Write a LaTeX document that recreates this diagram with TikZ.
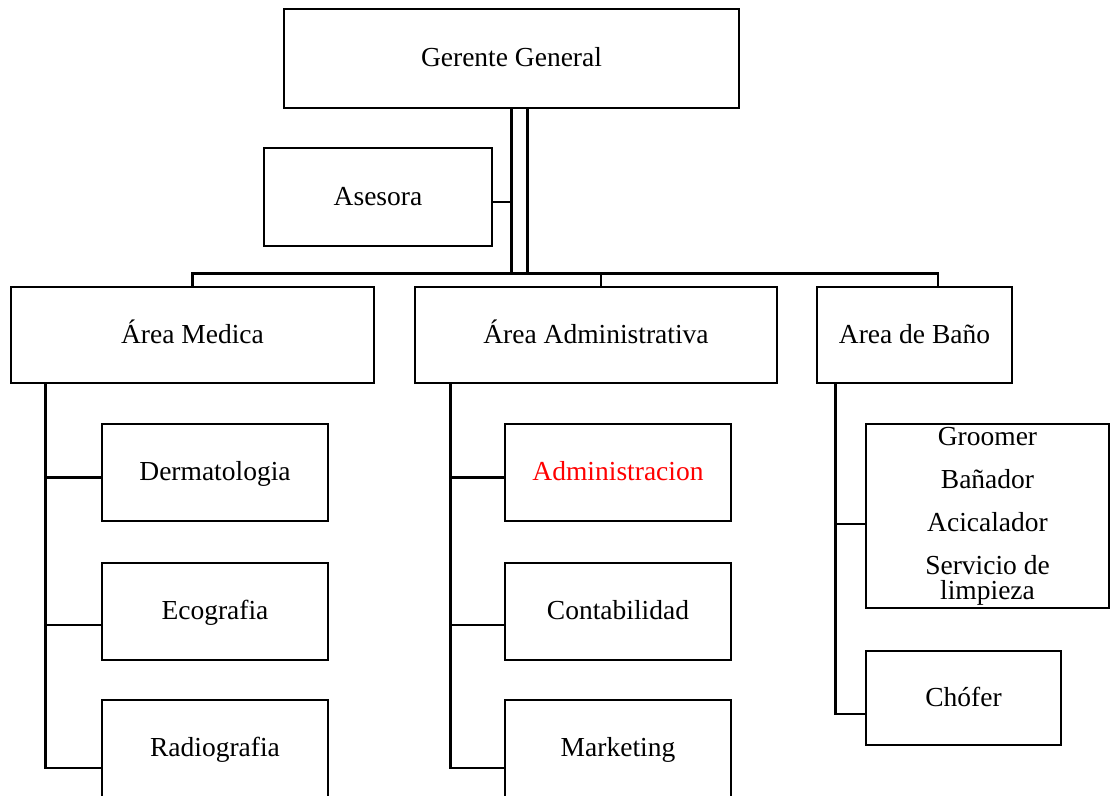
\documentclass[tikz,border=0pt]{standalone}
\usepackage{fontspec}
\setmainfont{Liberation Serif}
\begin{document}
\begin{tikzpicture}[x=1pt,y=-1pt,
  box/.style={draw=black,line width=2.6pt,inner sep=0pt,align=center,
    font=\fontsize{27.5}{32}\selectfont},
  one/.style={text height=21pt,text depth=5pt},
  conn/.style={line width=2.6pt,black},
  thickconn/.style={line width=3.8pt,black}]
\useasboundingbox (0,0) rectangle (1110,795);
\clip (0,0) rectangle (1110,795);
\fill[white] (0,0) rectangle (1110,795);
% boxes
\node[box,one,minimum width=455pt,minimum height=99pt] (ger) at (511.5,58.5) {Gerente General};
\node[box,one,minimum width=228pt,minimum height=98pt] (ase) at (378,197) {Asesora};
\node[box,one,minimum width=363pt,minimum height=96pt] (med) at (192.5,335) {Área Medica};
\node[box,one,minimum width=362pt,minimum height=96pt] (adm) at (596,335) {Área Administrativa};
\node[box,one,minimum width=195pt,minimum height=96pt] (bano) at (914.5,335) {Area de Baño};
\node[box,one,minimum width=226pt,minimum height=97pt] (derm) at (215,472.5) {Dermatologia};
\node[box,one,minimum width=226pt,minimum height=97pt] (eco) at (215,611.5) {Ecografia};
\node[box,one,minimum width=226pt,minimum height=97pt] (rad) at (215,748.5) {Radiografia};
\node[box,one,minimum width=226pt,minimum height=97pt,text=red] (admn) at (618,472.5) {Administracion};
\node[box,one,minimum width=226pt,minimum height=97pt] (cont) at (618,611.5) {Contabilidad};
\node[box,one,minimum width=226pt,minimum height=97pt] (mkt) at (618,748.5) {Marketing};
\node[box,minimum width=243pt,minimum height=184pt,font=\fontsize{27.5}{43}\selectfont] (groom) at (987.5,516)
  {Groomer\\Bañador\\Acicalador\\Servicio de\\[-18pt]limpieza};
\node[box,one,minimum width=195pt,minimum height=94pt] (chof) at (963.5,698) {Chófer};
% top connectors
\coordinate (bus) at (512,275);
\draw[thickconn] (ger.south) -- (ger.south |- bus);
\draw[conn] ([xshift=16pt]ger.south) -- ++(0,166);
\draw[conn] ([yshift=-5pt]ase.east) -| (ger.south);
\draw[conn] (med.north) -- ++(0,-12) -| ([xshift=23.5pt]bano.north);
\draw[conn] ([xshift=5pt]adm.north) -- ++(0,-12);
% medica
\draw[conn] ([xshift=36pt]med.south west) coordinate (m0) |- ([yshift=-19.5pt]rad.west);
\draw[conn] ([yshift=-5pt]derm.west) -- ([yshift=-5pt]derm.west -| m0);
\draw[conn] ([yshift=-13.5pt]eco.west) -| (m0);
% administrativa
\draw[conn] ([xshift=37pt]adm.south west) coordinate (a0) |- ([yshift=-19.5pt]mkt.west);
\draw[conn] ([yshift=-5pt]admn.west) -| (a0);
\draw[conn] ([yshift=-13.5pt]cont.west) -| (a0);
% bano
\draw[conn] ([xshift=20pt]bano.south west) coordinate (b0) |- ([yshift=-16pt]chof.west);
\draw[conn] ([yshift=-8pt]groom.west) -| (b0);
\end{tikzpicture}
\end{document}
